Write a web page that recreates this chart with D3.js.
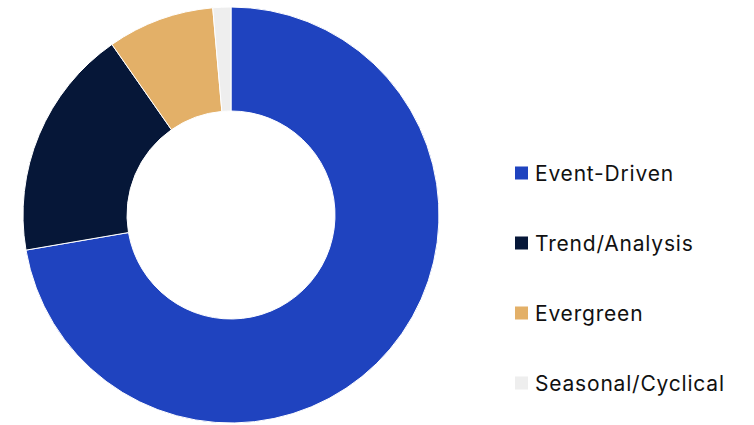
<!DOCTYPE html>
<html>
<head>
<meta charset="utf-8">
<script src="https://cdn.jsdelivr.net/npm/d3@7"></script>
<style>
  html, body { margin: 0; padding: 0; background: #ffffff; }
  svg { display: block; }
</style>
</head>
<body>
<svg id="chart" width="754" height="425"></svg>
<script>
// Share of content by type
const categories = ["Event-Driven", "Trend/Analysis", "Evergreen", "Seasonal/Cyclical"];
const values = [72.3, 18.0, 8.3, 1.4];
const colors = ["#1f43bf", "#061738", "#e3b068", "#eeeeee"];

const svg = d3.select("#chart");
const cx = 231, cy = 215, outerR = 208, innerR = 104;

const data = categories.map((c, i) => ({ name: c, value: values[i] }));
const pie = d3.pie().value(d => d.value).sort(null);
const arc = d3.arc().innerRadius(innerR).outerRadius(outerR);
const color = d3.scaleOrdinal().domain(categories).range(colors);

svg.append("g")
  .attr("transform", `translate(${cx},${cy})`)
  .selectAll("path")
  .data(pie(data))
  .join("path")
  .attr("d", arc)
  .attr("fill", d => color(d.data.name))
  .attr("stroke", "#ffffff")
  .attr("stroke-width", 1);

// Legend
const legendY = d3.scalePoint().domain(categories).range([173, 383]);
const legend = svg.append("g")
  .selectAll("g")
  .data(categories)
  .join("g")
  .attr("transform", d => `translate(515,${legendY(d)})`);

legend.append("rect")
  .attr("x", 0).attr("y", -6.5)
  .attr("width", 13).attr("height", 13)
  .attr("fill", d => color(d));

legend.append("text")
  .attr("x", 20).attr("y", 0)
  .attr("dy", "0.36em")
  .attr("font-family", "Inter, sans-serif")
  .attr("font-size", 21)
  .attr("letter-spacing", 0.8)
  .attr("fill", "#111111")
  .text(d => d);
</script>
</body>
</html>
